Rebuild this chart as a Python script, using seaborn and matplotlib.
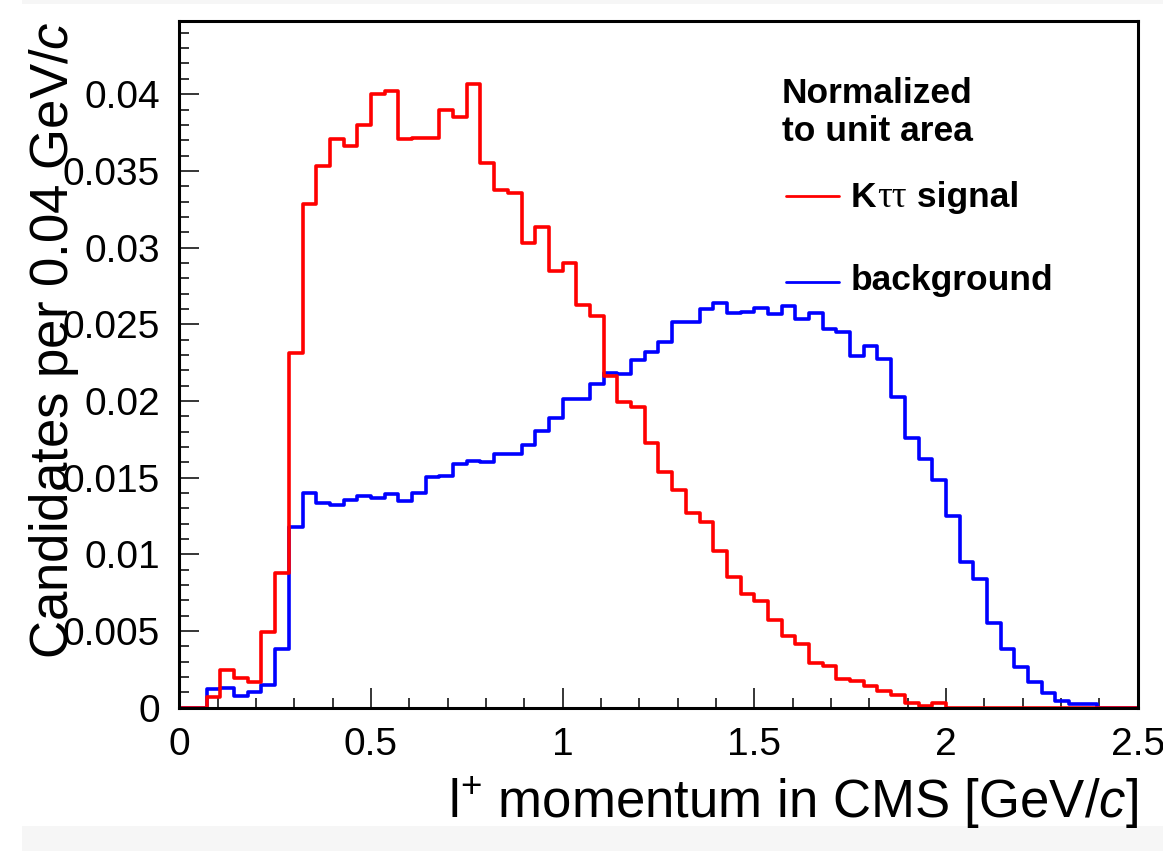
import numpy as np
import pandas as pd
import matplotlib
matplotlib.use("Agg")
import matplotlib.pyplot as plt
import seaborn as sns
from matplotlib.lines import Line2D
from matplotlib.patches import Rectangle
from matplotlib.ticker import MultipleLocator, FuncFormatter

# ---- data (normalized histograms, 70 bins from 0 to 2.5 GeV/c) ----
x_min, x_max, n_bins = 0.0, 2.5, 70
signal = [0, 0, 0.00072, 0.00246, 0.00192, 0.0017, 0.00495, 0.00876, 0.0231, 0.03284,
          0.03531, 0.03705, 0.03662, 0.03799, 0.0400, 0.04022, 0.03705, 0.03712, 0.03712, 0.03896,
          0.03853, 0.04066, 0.03553, 0.03375, 0.03353, 0.03027, 0.03136, 0.02849, 0.02901, 0.02625,
          0.02553, 0.02162, 0.01991, 0.01962, 0.01724, 0.01535, 0.01419, 0.01271, 0.01213, 0.01022,
          0.00854, 0.00741, 0.00696, 0.00572, 0.00467, 0.00415, 0.00293, 0.00274, 0.00187, 0.00174,
          0.00141, 0.00111, 0.00083, 0.00033, 0.00013, 0.00033, 0, 0, 0, 0,
          0, 0, 0, 0, 0, 0, 0, 0, 0, 0]
background = [0, 0, 0.0012, 0.00126, 0.00076, 0.001, 0.00148, 0.00383, 0.0118, 0.01398,
              0.01332, 0.01321, 0.01354, 0.01382, 0.01369, 0.01391, 0.01347, 0.01398, 0.01502, 0.01512,
              0.01589, 0.0161, 0.01602, 0.01654, 0.01654, 0.01713, 0.01804, 0.01891, 0.02015, 0.02011,
              0.0211, 0.0218, 0.02175, 0.0227, 0.02321, 0.02382, 0.02516, 0.02512, 0.02599, 0.02636,
              0.02571, 0.02577, 0.02608, 0.02567, 0.02622, 0.02536, 0.02571, 0.02467, 0.02447, 0.02293,
              0.02358, 0.02275, 0.02023, 0.01756, 0.01619, 0.01484, 0.01252, 0.00952, 0.00837, 0.0055,
              0.0038, 0.00263, 0.0017, 0.00098, 0.00046, 0.00024, 0.00024, 0, 0, 0]
y_ticks = [0, 0.005, 0.01, 0.015, 0.02, 0.025, 0.03, 0.035, 0.04]
x_ticks = [0, 0.5, 1, 1.5, 2, 2.5]

sns.set_theme(style="ticks")
plt.rcParams['font.family'] = ['Liberation Sans', 'DejaVu Sans']
plt.rcParams['text.color'] = 'black'
plt.rcParams['axes.labelcolor'] = 'black'
plt.rcParams['mathtext.fontset'] = 'custom'
plt.rcParams['mathtext.rm'] = 'Liberation Sans'
plt.rcParams['mathtext.it'] = 'Liberation Sans:italic'
plt.rcParams['mathtext.bf'] = 'Liberation Sans:bold'

W, H = 1163, 851
fig = plt.figure(figsize=(W / 100, H / 100), dpi=100, facecolor='white')
ax = fig.add_axes([179.3 / W, 1 - 707.7 / H, (1137.6 - 179.3) / W, (707.7 - 21) / H])

edges = np.linspace(x_min, x_max, n_bins + 1)
centers = 0.5 * (edges[:-1] + edges[1:])
df = pd.DataFrame({'p': np.concatenate([centers, centers]),
                   'w': np.concatenate([background, signal]),
                   'sample': ['background'] * n_bins + ['signal'] * n_bins})

sns.histplot(data=df[df['sample'] == 'background'], x='p', weights='w', bins=n_bins,
             binrange=(x_min, x_max), element='step', fill=False, color='#0000ff',
             linewidth=2.6, ax=ax)
sns.histplot(data=df[df['sample'] == 'signal'], x='p', weights='w', bins=n_bins,
             binrange=(x_min, x_max), element='step', fill=False, color='#ff0000',
             linewidth=2.6, ax=ax)

ax.set_xlim(x_min, x_max)
ax.set_ylim(0, 0.04477)
ax.set_xticks(x_ticks)
ax.set_yticks(y_ticks)
ax.xaxis.set_minor_locator(MultipleLocator(0.1))
ax.yaxis.set_minor_locator(MultipleLocator(0.001))
fmt = FuncFormatter(lambda v, pos: '{:g}'.format(round(v, 4)))
ax.xaxis.set_major_formatter(fmt)
ax.yaxis.set_major_formatter(fmt)
ax.tick_params(which='both', direction='in', top=False, right=False, color='black', width=1.1)
ax.tick_params(which='major', length=14.4, labelsize=28, pad=14, labelcolor='black')
ax.tick_params(which='minor', length=7.2)
for s in ax.spines.values():
    s.set_visible(True)
    s.set_color('black')
    s.set_linewidth(2.2)
ax.grid(False)

ax.set_xlabel(r'l$^{+}$ momentum in CMS [GeV/$c$]', fontsize=38, color='black')
ax.xaxis.set_label_coords(1.0, -0.098)
ax.xaxis.label.set_horizontalalignment('right')
ax.xaxis.label.set_verticalalignment('top')
ax.set_ylabel(r'Candidates per 0.04 GeV/$c$', fontsize=38, color='black')
ax.yaxis.set_label_coords(-0.103, 1.0)
ax.yaxis.label.set_horizontalalignment('right')
ax.yaxis.label.set_verticalalignment('bottom')

# ---- legend ----
def fx(px):
    return px / W

def fy(py):
    return 1 - py / H

LFS = 25.5
fig.text(fx(782), fy(102.7), 'Normalized', fontsize=LFS, fontweight='bold', va='baseline', ha='left', color='black')
fig.text(fx(782), fy(141), 'to unit area', fontsize=LFS, fontweight='bold', va='baseline', ha='left', color='black')
fig.add_artist(Line2D([fx(786), fx(839)], [fy(195.7), fy(195.7)], color='#ff0000', lw=2.0))
fig.add_artist(Line2D([fx(786), fx(839)], [fy(281.7), fy(281.7)], color='#0000ff', lw=2.0))
tK = fig.text(fx(850.7), fy(206.7), 'K', fontsize=LFS, fontweight='bold', va='baseline', ha='left', color='black')
tT = fig.text(0, 0, '\u03c4\u03c4', fontsize=LFS + 1, family=['Liberation Serif', 'DejaVu Serif'],
              va='baseline', ha='left', color='black')
tS = fig.text(0, 0, ' signal', fontsize=LFS, fontweight='bold', va='baseline', ha='left', color='black')
fig.text(fx(850.7), fy(290), 'background', fontsize=LFS, fontweight='bold', va='baseline', ha='left', color='black')

fig.canvas.draw()
r = fig.canvas.get_renderer()
bK = tK.get_window_extent(r)
tT.set_position((bK.x1 / W + 1.0 / W, fy(206.7)))
fig.canvas.draw()
bT = tT.get_window_extent(r)
tS.set_position((bT.x1 / W, fy(206.7)))

# light strips at top and bottom edges of the reference screenshot
fig.patches.append(Rectangle((22 / W, 0), 1, 25 / H, transform=fig.transFigure,
                             facecolor='#f6f6f6', edgecolor='none', zorder=-1))
fig.patches.append(Rectangle((22 / W, 1 - 4 / H), 1, 4 / H, transform=fig.transFigure,
                             facecolor='#f6f6f6', edgecolor='none', zorder=-1))

fig.savefig('out.png', dpi=100, facecolor='white')
